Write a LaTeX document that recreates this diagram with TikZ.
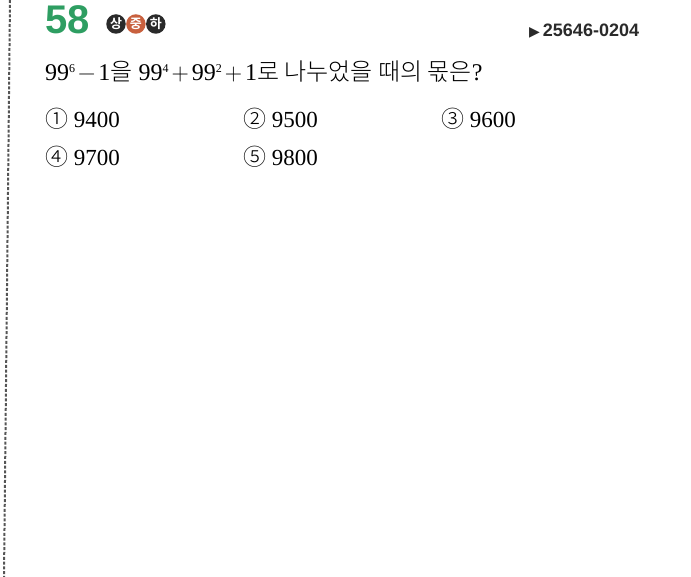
\documentclass[tikz,border=0pt]{standalone}
\usepackage{fontspec}
\setmainfont{Liberation Serif}
\newfontfamily\krfont{Noto Sans CJK KR Light}
\newfontfamily\badgefont{Noto Sans CJK KR Bold}
\newfontfamily\headfont{Liberation Sans}
\newfontfamily\symfont{DejaVu Sans}
\newfontfamily\opfont{Latin Modern Roman}
\newcommand\powr[1]{\raisebox{0.34em}{\fontsize{12}{12}\selectfont #1}}
\newcommand\oper[1]{{\opfont\hspace{3pt}#1\hspace{3pt}}}
\usetikzlibrary{positioning}
\definecolor{numgreen}{RGB}{46,158,98}
\definecolor{midorange}{RGB}{200,96,62}
\definecolor{badgegray}{RGB}{42,42,42}
\tikzset{
  badge/.style={circle, inner sep=0pt, minimum size=19.5pt, text=white,
    font=\badgefont\fontsize{13}{13}\selectfont},
  choice/.style={anchor=base west, inner sep=0pt, font=\fontsize{23}{28}\selectfont}
}

\begin{document}
\begin{tikzpicture}[x=1pt,y=-1pt]
\useasboundingbox (0,0) rectangle (691,577);
\draw [badgegray!80, line width=2pt, dash pattern=on 3pt off 1.8pt] (10,0) -- (4,577);
\node (num) [anchor=base west, inner sep=0pt, numgreen, font=\headfont\bfseries\fontsize{40}{40}\selectfont] at (45,34) {58};
\node (hi) [badge, fill=badgegray] at (116,24) {상};
\node (mid) [badge, fill=midorange, right=0pt of hi] {중};
\node (lo) [badge, fill=badgegray, right=0pt of mid] {하};
\node (code) [anchor=base west, inner sep=0pt, badgegray, font=\headfont\bfseries\fontsize{18}{18}\selectfont] at (529,37) {{\symfont\fontsize{14}{14}\selectfont ▶}\,25646-0204};
\node (question) [anchor=base west, inner sep=0pt, font=\fontsize{24}{28}\selectfont] at (45,81)
  {99\powr{6}\oper{−}1{\krfont 을}\hspace{6pt}99\powr{4}\oper{+}99\powr{2}\oper{+}1{\krfont 로 나누었을 때의 몫은}?};
\node (c1) [choice] at (45,128) {{\krfont ①} 9400};
\node (c2) [choice] at (243,128) {{\krfont ②} 9500};
\node (c3) [choice] at (441,128) {{\krfont ③} 9600};
\node (c4) [choice] at (45,166) {{\krfont ④} 9700};
\node (c5) [choice] at (243,166) {{\krfont ⑤} 9800};
\end{tikzpicture}
\end{document}
